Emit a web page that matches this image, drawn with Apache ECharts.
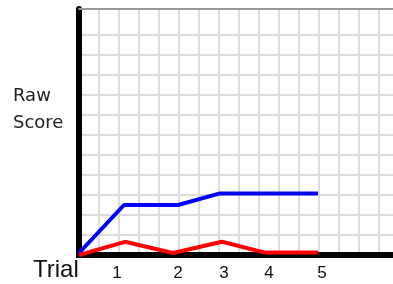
<!DOCTYPE html>
<html>
<head>
<meta charset="utf-8">
<script src="https://cdn.jsdelivr.net/npm/echarts@6/dist/echarts.min.js"></script>
<style>
html,body{margin:0;padding:0;background:#fff;}
#main{width:393px;height:284px;}
</style>
</head>
<body>
<div id="main"></div>
<script>
// trial labels and where they sit on the x scale (grid cells)
var trialLabels = ['1', '2', '3', '4', '5'];
var labelX = [1.9, 4.95, 7.25, 9.5, 12.15];

// blue series (x in grid cells, raw score in grid cells)
var blueX = [0, 2.25, 4.95, 7.05, 9.4, 11.95];
var blueY = [0.1, 2.5, 2.5, 3.08, 3.08, 3.08];

// red series
var redX = [0, 2.3, 4.7, 7.15, 9.3, 11.95];
var redY = [0, 0.66, 0.1, 0.66, 0.12, 0.12];

function pairs(xs, ys) {
	var out = [];
	for (var i = 0; i < xs.length; i++) out.push([xs[i], ys[i]]);
	return out;
}

var chart = echarts.init(document.getElementById('main'), null, {renderer: 'canvas'});

var clear = 'rgba(0,0,0,0)';
// x split lines: none at 0 (under the axis) or at the right edge
var xColors = [clear];
for (var i = 1; i < 16; i++) xColors.push('#dcdcdc');
xColors.push(clear);
// y split lines: hide the one at 12 so the top cell is taller, like the picture
var yColors = [];
for (var j = 0; j < 12; j++) yColors.push('#dcdcdc');
yColors.push(clear, clear);

var option = {
	animation: false,
	grid: {left: 79, right: 0, top: 9, bottom: 29},
	xAxis: [{
		type: 'value',
		min: 0,
		max: 15.7,
		interval: 1,
		axisLine: {show: true, lineStyle: {color: '#000', width: 6, cap: 'square'}},
		axisTick: {show: false},
		splitLine: {show: true, lineStyle: {color: xColors, width: 2}},
		axisLabel: {
			customValues: labelX,
			margin: 10,
			color: '#111',
			fontFamily: 'Liberation Sans',
			fontSize: 17,
			formatter: function (v) {
				var k = labelX.indexOf(v);
				return k >= 0 ? trialLabels[k] : '';
			}
		}
	}, {
		type: 'value',
		position: 'top',
		min: 0,
		max: 15.7,
		axisLine: {show: true, lineStyle: {color: '#999', width: 2}},
		axisTick: {show: false},
		axisLabel: {show: false},
		splitLine: {show: false}
	}],
	yAxis: {
		type: 'value',
		min: 0,
		max: 12.3,
		interval: 1,
		offset: 2,
		axisLine: {show: true, lineStyle: {color: '#000', width: 6}},
		axisTick: {show: false},
		axisLabel: {show: false},
		splitLine: {show: true, lineStyle: {color: yColors, width: 2}}
	},
	graphic: [
		{type: 'text', left: 13, top: 87, style: {text: 'Raw', fill: '#222', font: '18px "DejaVu Sans"'}},
		{type: 'text', left: 13, top: 114, style: {text: 'Score', fill: '#222', font: '18px "DejaVu Sans"'}},
		{type: 'text', left: 33, top: 258, style: {text: 'Trial', fill: '#111', font: '24px "Liberation Sans"'}}
	],
	series: [{
		name: 'blue',
		type: 'line',
		data: pairs(blueX, blueY),
		symbol: 'none',
		lineStyle: {color: '#0000ff', width: 4},
		clip: false
	}, {
		name: 'red',
		type: 'line',
		data: pairs(redX, redY),
		symbol: 'none',
		lineStyle: {color: '#ff0000', width: 4},
		clip: false
	}]
};

chart.setOption(option);
</script>
</body>
</html>
